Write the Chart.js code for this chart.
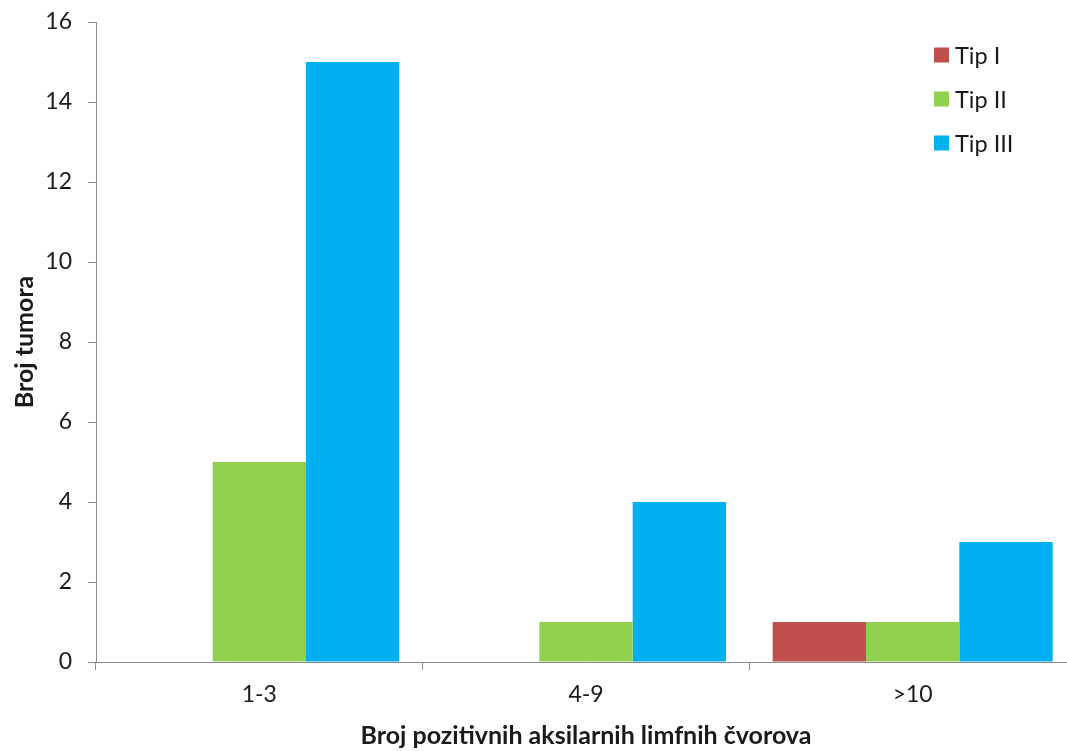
<!DOCTYPE html>
<html>
<head>
<meta charset="utf-8">
<script src="https://cdn.jsdelivr.net/npm/chart.js@4.4.1/dist/chart.umd.min.js"></script>
<style>
html,body{margin:0;padding:0;overflow:hidden;background:#fff;}
#wrap{width:1080px;height:751px;position:relative;}
</style>
</head>
<body>
<div id="wrap"><canvas id="c"></canvas></div>
<script>
const categories = ['1-3', '4-9', '>10'];
const tipI = [0, 0, 1];
const tipII = [5, 1, 1];
const tipIII = [15, 4, 3];
const seriesNames = ['Tip I', 'Tip II', 'Tip III'];
const seriesColors = ['#c0504d', '#92d050', '#00b0f0'];
const yTitle = 'Broj tumora';
const xTitle = 'Broj pozitivnih aksilarnih limfnih čvorova';

const FONT = 'Lato, "Open Sans", sans-serif';
const axisColor = '#8c8c8c';
const textColor = '#1a1a1a';

const legendPlugin = {
  id: 'boxLegend',
  afterDraw(chart) {
    const ctx = chart.ctx;
    ctx.save();
    ctx.font = '23.5px ' + FONT;
    ctx.textBaseline = 'middle';
    ctx.textAlign = 'left';
    chart.data.datasets.forEach((ds, i) => {
      const cy = 55 + i * 44;
      ctx.fillStyle = ds.backgroundColor;
      ctx.fillRect(934, cy - 7.5, 15, 15);
      ctx.fillStyle = textColor;
      ctx.fillText(ds.label, 955, cy + 1);
    });
    ctx.restore();
  }
};

new Chart(document.getElementById('c'), {
  type: 'bar',
  data: {
    labels: categories,
    datasets: [
      { label: seriesNames[0], data: tipI, backgroundColor: seriesColors[0] },
      { label: seriesNames[1], data: tipII, backgroundColor: seriesColors[1] },
      { label: seriesNames[2], data: tipIII, backgroundColor: seriesColors[2] }
    ]
  },
  options: {
    responsive: true,
    maintainAspectRatio: false,
    animation: false,
    layout: { padding: { top: 22, right: 4, left: 0, bottom: 0 } },
    datasets: { bar: { categoryPercentage: 0.857, barPercentage: 1.0 } },
    plugins: {
      legend: { display: false },
      tooltip: { enabled: false }
    },
    scales: {
      x: {
        afterFit(s) { s.height = 89; s.paddingLeft = 0; s.paddingRight = 0; },
        border: { display: true, color: axisColor, width: 1 },
        grid: { display: true, drawOnChartArea: false, drawTicks: true, tickLength: 8, color: axisColor, offset: true },
        ticks: { color: textColor, font: { family: FONT, size: 23 }, padding: 11 },
        title: { display: true, text: xTitle, color: textColor, font: { family: FONT, size: 25, weight: 'bold' }, padding: { top: 0, bottom: 0 } }
      },
      y: {
        min: 0, max: 16,
        afterFit(s) { s.width = 96; s.paddingTop = 0; s.paddingBottom = 0; },
        border: { display: true, color: axisColor, width: 1 },
        grid: { display: true, drawOnChartArea: false, drawTicks: true, tickLength: 8, color: axisColor },
        ticks: { stepSize: 2, color: textColor, font: { family: FONT, size: 23 }, padding: 16 },
        title: { display: true, text: yTitle, color: textColor, font: { family: FONT, size: 25, weight: 'bold' }, padding: { top: 10, bottom: 0 } }
      }
    }
  },
  plugins: [legendPlugin]
});
</script>
</body>
</html>
